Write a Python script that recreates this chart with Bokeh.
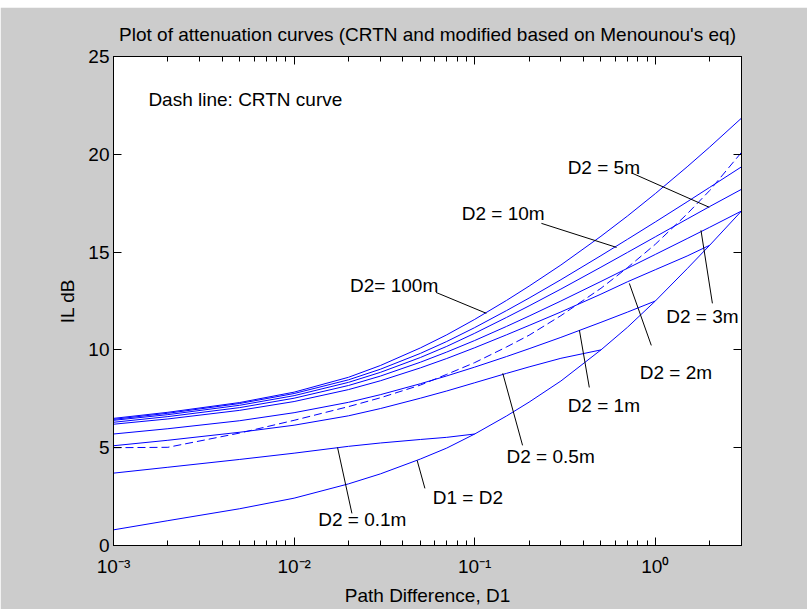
from bokeh.plotting import figure
from bokeh.models import (LogAxis, LinearAxis, Range1d, FixedTicker, CustomJSTickFormatter, Spacer)
from bokeh.layouts import column
from bokeh.embed import file_html
from bokeh.resources import INLINE
from bokeh.core.properties import value

# ---------------- data ----------------
d1 = [0.001, 0.002, 0.005, 0.01, 0.02, 0.03, 0.05, 0.07, 0.1,
      0.15, 0.2, 0.3, 0.5, 0.7, 1.0, 1.5, 2.0, 3.0]

il_d2_100m = [6.5, 6.81, 7.31, 7.84, 8.6, 9.2, 10.1, 10.77, 11.56,
              12.53, 13.26, 14.34, 15.81, 16.84, 17.99, 19.36, 20.37, 21.85]
il_d2_10m = [6.45, 6.76, 7.26, 7.77, 8.47, 9.01, 9.82, 10.43, 11.14,
             12.01, 12.65, 13.59, 14.82, 15.65, 16.54, 17.57, 18.31, 19.36]
il_d2_5m = [6.4, 6.69, 7.17, 7.66, 8.34, 8.85, 9.61, 10.18, 10.85,
            11.66, 12.25, 13.11, 14.23, 14.98, 15.78, 16.69, 17.33, 18.21]
il_d2_3m = [6.3, 6.59, 7.05, 7.53, 8.18, 8.66, 9.37, 9.89, 10.48,
            11.2, 11.73, 12.5, 13.5, 14.17, 14.88, 15.69, 16.27, 17.1]
il_d2_2m = [6.2, 6.47, 6.91, 7.36, 7.97, 8.42, 9.08, 9.56, 10.11,
            10.77, 11.25, 11.94, 12.85, 13.48, 14.1, 14.8, 15.35]
il_d2_1m = [5.7, 5.97, 6.38, 6.79, 7.32, 7.71, 8.27, 8.67, 9.12,
            9.66, 10.06, 10.64, 11.41, 11.93, 12.5]
il_d2_05m = [5.1, 5.38, 5.79, 6.15, 6.63, 7.0, 7.53, 7.9, 8.32,
             8.8, 9.13, 9.57, 10.0]
il_d2_01m = [3.7, 4.0, 4.4, 4.72, 5.07, 5.24, 5.42, 5.53, 5.7]
il_d1_eq_d2 = [0.8, 1.27, 1.88, 2.42, 3.15, 3.66, 4.42, 4.98, 5.7,
               6.62, 7.33, 8.41, 10.0, 11.15, 12.5, 14.15, 15.35, 17.1]
il_crtn = [5.0, 5.02, 5.75, 6.4, 7.1, 7.55, 8.2, 8.75, 9.35,
           10.15, 10.75, 11.75, 13.15, 14.2, 15.4, 16.95, 18.15, 20.1]

solid_series = [il_d2_100m, il_d2_10m, il_d2_5m, il_d2_3m, il_d2_2m,
                il_d2_1m, il_d2_05m, il_d2_01m, il_d1_eq_d2]

x_tick_values = [0.001, 0.01, 0.1, 1.0]
x_tick_labels = ["10\u207b\u00b3", "10\u207b\u00b2", "10\u207b\u00b9", "10\u2070"]
y_tick_values = [0, 5, 10, 15, 20, 25]

title_text = "Plot of attenuation curves (CRTN and modified based on Menounou's eq)"
x_label = "Path Difference, D1"
y_label = "IL dB"

# annotation texts and their anchor (left, middle) in data units
note_texts = ["Dash line: CRTN curve", "D2= 100m", "D2 = 10m", "D2 = 5m", "D2 = 3m",
              "D2 = 2m", "D2 = 1m", "D2 = 0.5m", "D1 = D2", "D2 = 0.1m"]
note_x = [0.00156, 0.0204, 0.0847, 0.327, 1.15, 0.82, 0.327, 0.150, 0.0586, 0.0136]
note_y = [22.8, 13.3, 16.98, 19.34, 11.71, 8.85, 7.16, 4.55, 2.46, 1.33]

# leader lines: start (near text) and end (on curve)
lead_x0 = [0.061, 0.234, 0.746, 2.07, 0.95, 0.431, 0.184, 0.053, 0.0209]
lead_y0 = [12.94, 16.47, 19.03, 12.38, 10.23, 8.08, 5.12, 2.92, 1.64]
lead_x1 = [0.116, 0.61, 1.99, 1.79, 0.718, 0.38, 0.143, 0.048, 0.0174]
lead_y1 = [11.87, 15.24, 17.29, 16.11, 13.4, 11.0, 8.80, 4.35, 5.01]

# ---------------- styling ----------------
FONT = "Liberation Sans"
FS = "19px"
BLUE = "#0000ff"
GRAY = "#cccccc"

p = figure(width=807, height=602, x_axis_type="log",
           x_range=Range1d(0.001, 3.0), y_range=Range1d(0, 25),
           output_backend="svg", toolbar_location=None,
           min_border_left=113, min_border_right=66,
           min_border_top=49, min_border_bottom=64,
           background_fill_color="white", border_fill_color=GRAY,
           outline_line_color="black", outline_line_width=1)

p.xgrid.visible = False
p.ygrid.visible = False

p.title.text = title_text
p.title.align = "center"
p.title.text_font = FONT
p.title.text_font_size = FS
p.title.text_font_style = "normal"
p.title.text_color = "black"
p.title.standoff = 13

minor = [m * 10.0 ** e for e in (-3, -2, -1) for m in range(2, 10)] + [2.0, 3.0]
xfmt = CustomJSTickFormatter(args=dict(xt=x_tick_values, xl=x_tick_labels), code="""
const i = xt.findIndex(t => Math.abs(Math.log10(t) - Math.log10(tick)) < 1e-6);
return i >= 0 ? xl[i] : '';
""")
blank = CustomJSTickFormatter(code="return ' ';")


def style_axis(ax):
    ax.axis_line_color = "black"
    ax.major_tick_line_color = "black"
    ax.minor_tick_line_color = "black"
    ax.major_tick_in = 8
    ax.major_tick_out = 0
    ax.minor_tick_out = 0
    ax.major_label_text_font = FONT
    ax.major_label_text_font_size = FS
    ax.major_label_text_color = "black"
    ax.axis_label_text_font = FONT
    ax.axis_label_text_font_size = FS
    ax.axis_label_text_font_style = "normal"
    ax.axis_label_text_color = "black"


xa = p.xaxis[0]
xa.ticker = FixedTicker(ticks=x_tick_values, minor_ticks=minor)
xa.formatter = xfmt
style_axis(xa)
xa.minor_tick_in = 5
xa.major_label_standoff = 10
xa.axis_label = x_label
xa.axis_label_standoff = 5

ya = p.yaxis[0]
ya.ticker = FixedTicker(ticks=y_tick_values, minor_ticks=[])
style_axis(ya)
ya.minor_tick_in = 0
ya.major_label_standoff = 4
ya.axis_label = y_label
ya.axis_label_standoff = 7

top = LogAxis(ticker=FixedTicker(ticks=x_tick_values, minor_ticks=minor), formatter=blank)
style_axis(top)
top.minor_tick_in = 5
top.major_label_text_font_size = "2px"
top.major_label_standoff = 0
p.add_layout(top, "above")

right = LinearAxis(ticker=FixedTicker(ticks=y_tick_values, minor_ticks=[]), formatter=blank)
style_axis(right)
right.minor_tick_in = 0
right.major_label_text_font_size = "2px"
right.major_label_standoff = 0
p.add_layout(right, "right")

for s in solid_series:
    p.line(d1[:len(s)], s, line_color=BLUE, line_width=1)
p.line(d1[:len(il_crtn)], il_crtn, line_color=BLUE, line_width=1, line_dash="8 4")

p.segment(lead_x0, lead_y0, lead_x1, lead_y1, line_color="black", line_width=1)
p.text(note_x, note_y, text=note_texts, text_font=value(FONT), text_font_size=FS,
       text_color="black", text_align="left", text_baseline="middle")

layout = column(Spacer(width=807, height=7), p, spacing=0)
open("out.html", "w").write(file_html(layout, INLINE))
